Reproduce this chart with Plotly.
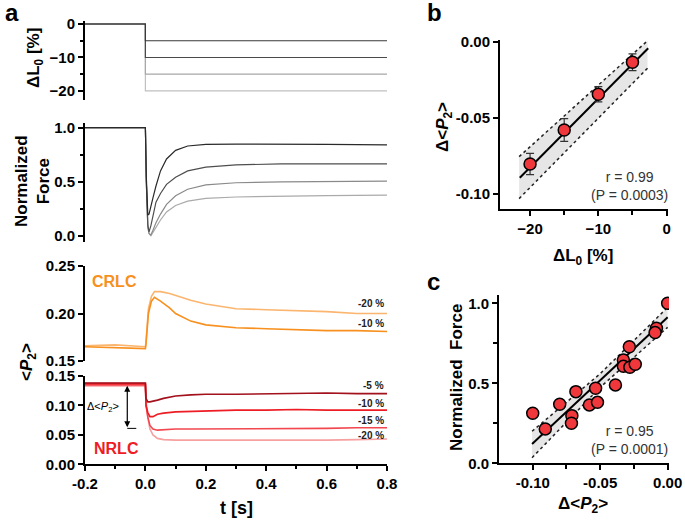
import plotly.graph_objects as go

# ---------------- data ----------------
steps = [-5, -10, -15, -20]
step_labels = ["-5 %", "-10 %", "-15 %", "-20 %"]
dl_t = [-0.2, 0.0, 0.0, 0.8]

force_t = [-0.2, 0.0, 0.003, 0.008, 0.012, 0.018, 0.025, 0.035, 0.05, 0.07, 0.1, 0.14, 0.2, 0.3, 0.45, 0.6, 0.8]
force_5 = [1.0, 1.0, 0.55, 0.19, 0.20, 0.26, 0.35, 0.46, 0.60, 0.71, 0.79, 0.83, 0.845, 0.848, 0.848, 0.845, 0.84]
force_10 = [1.0, 1.0, 0.50, 0.10, 0.035, 0.09, 0.18, 0.31, 0.39, 0.475, 0.54, 0.60, 0.635, 0.655, 0.665, 0.668, 0.665]
force_15 = [1.0, 1.0, 0.50, 0.08, 0.02, 0.005, 0.05, 0.12, 0.20, 0.29, 0.37, 0.43, 0.47, 0.49, 0.498, 0.502, 0.505]
force_20 = [1.0, 1.0, 0.50, 0.08, 0.02, 0.0, 0.03, 0.08, 0.145, 0.22, 0.28, 0.32, 0.345, 0.358, 0.366, 0.371, 0.376]

crlc_t = [-0.2, -0.1, 0.0, 0.002, 0.01, 0.02, 0.03, 0.05, 0.08, 0.1, 0.15, 0.2, 0.3, 0.4, 0.5, 0.6, 0.7, 0.8]
crlc_20 = [0.166, 0.167, 0.165, 0.170, 0.205, 0.218, 0.223, 0.223, 0.221, 0.219, 0.214, 0.210, 0.205, 0.204, 0.203, 0.202, 0.200, 0.200]
crlc_10 = [0.165, 0.164, 0.163, 0.168, 0.200, 0.213, 0.217, 0.213, 0.206, 0.200, 0.192, 0.188, 0.185, 0.184, 0.183, 0.182, 0.182, 0.181]
crlc_labels = ["-20 %", "-10 %"]

nrlc_t = [-0.2, -0.1, 0.0, 0.002, 0.008, 0.015, 0.025, 0.04, 0.06, 0.1, 0.15, 0.2, 0.3, 0.4, 0.5, 0.6, 0.7, 0.8]
nrlc_5 = [0.138, 0.138, 0.138, 0.112, 0.106, 0.106, 0.107, 0.109, 0.112, 0.116, 0.118, 0.119, 0.119, 0.120, 0.120, 0.121, 0.120, 0.120]
nrlc_10 = [0.137, 0.137, 0.137, 0.100, 0.088, 0.081, 0.081, 0.085, 0.087, 0.089, 0.090, 0.091, 0.092, 0.092, 0.093, 0.092, 0.092, 0.092]
nrlc_15 = [0.135, 0.135, 0.135, 0.100, 0.080, 0.066, 0.060, 0.058, 0.059, 0.060, 0.060, 0.060, 0.060, 0.061, 0.061, 0.061, 0.062, 0.062]
nrlc_20 = [0.133, 0.133, 0.133, 0.110, 0.080, 0.060, 0.050, 0.044, 0.042, 0.041, 0.041, 0.041, 0.041, 0.040, 0.041, 0.041, 0.042, 0.043]
delta_marker_t = -0.06
delta_marker_top = 0.136
delta_marker_bottom = 0.061

# panel b
b_dl = [-20, -15, -10, -5]
b_dp2 = [-0.0803, -0.058, -0.0346, -0.0136]
b_err = [0.007, 0.0075, 0.005, 0.0055]
b_fit_x = [-21.5, -2.7]
b_fit_y = [-0.0893, -0.0044]
b_band_x = [-21.6, -2.8]
b_band_hi = [-0.0755, 0.0005]
b_band_lo = [-0.103, -0.0175]

# panel c
c_dp2 = [-0.100, -0.0907, -0.080, -0.071, -0.0713, -0.068, -0.058, -0.0534, -0.052, -0.0387,
         -0.0328, -0.0328, -0.028, -0.0284, -0.024, -0.0083, -0.0093, 0.0]
c_force = [0.3125, 0.215, 0.369, 0.298, 0.25, 0.448, 0.365, 0.469, 0.381, 0.49,
           0.646, 0.606, 0.60, 0.729, 0.619, 0.844, 0.817, 1.0]
c_fit_x = [-0.1005, 0.0]
c_fit_y = [0.121, 0.9125]
c_band_x = [-0.1005, -0.05, 0.0]
c_band_hi = [0.20, 0.56, 0.975]
c_band_lo = [0.035, 0.475, 0.85]

# ---------------- layout helpers ----------------
W, H = 685, 520
FONT = "Liberation Sans, Arial, sans-serif"


def xd(a, b):
    return [a / W, b / W]


def yd(top, bottom):
    return [1 - bottom / H, 1 - top / H]


tickfont = dict(family=FONT, size=15, color="black", weight="bold")


def axis(**kw):
    base = dict(showline=True, linecolor="black", linewidth=2, ticks="outside",
                ticklen=5, tickwidth=2, tickcolor="black", tickfont=tickfont,
                showgrid=False, zeroline=False, mirror=False, automargin=False)
    base.update(kw)
    return base


hidden_x = dict(visible=False, range=[-0.2, 0.8], automargin=False)

fig = go.Figure()

# panel a: length step
dl_colors = ["#3a3a3a", "#4a4a4a", "#a8a8a8", "#c0c0c0"]
for s, col in reversed(list(zip(steps, dl_colors))):
    fig.add_trace(go.Scatter(x=dl_t, y=[0, 0, s, s], mode="lines",
                             line=dict(color=col, width=1.2), xaxis="x", yaxis="y", hoverinfo="skip"))

# panel a: force
f_colors = ["#2a2a2a", "#4e4e4e", "#8a8a8a", "#aaaaaa"]
for ys, col in reversed(list(zip([force_5, force_10, force_15, force_20], f_colors))):
    fig.add_trace(go.Scatter(x=force_t, y=ys, mode="lines", line=dict(color=col, width=1.2),
                             xaxis="x2", yaxis="y2", hoverinfo="skip"))

# panel a: CRLC
for ys, col in [(crlc_20, "#fbb56e"), (crlc_10, "#f7901e")]:
    fig.add_trace(go.Scatter(x=crlc_t, y=ys, mode="lines", line=dict(color=col, width=1.6),
                             xaxis="x3", yaxis="y3", hoverinfo="skip"))

# panel a: NRLC
n_colors = ["#a3121c", "#ee1c24", "#f2474f", "#f7a0a0"]
for ys, col in reversed(list(zip([nrlc_5, nrlc_10, nrlc_15, nrlc_20], n_colors))):
    fig.add_trace(go.Scatter(x=nrlc_t, y=ys, mode="lines", line=dict(color=col, width=1.6),
                             xaxis="x4", yaxis="y4", hoverinfo="skip"))

# panel b
fig.add_trace(go.Scatter(x=b_band_x + b_band_x[::-1], y=b_band_hi + b_band_lo[::-1], fill="toself",
                         fillcolor="rgba(200,200,200,0.45)", line=dict(width=0), mode="lines",
                         xaxis="x5", yaxis="y5", hoverinfo="skip"))
for yy in (b_band_hi, b_band_lo):
    fig.add_trace(go.Scatter(x=b_band_x, y=yy, mode="lines", line=dict(color="#222", width=1.5, dash="dot"),
                             xaxis="x5", yaxis="y5", hoverinfo="skip"))
fig.add_trace(go.Scatter(x=b_fit_x, y=b_fit_y, mode="lines", line=dict(color="black", width=2),
                         xaxis="x5", yaxis="y5", hoverinfo="skip"))
fig.add_trace(go.Scatter(x=b_dl, y=b_dp2, mode="markers",
                         error_y=dict(type="data", array=b_err, color="#333", thickness=1.2, width=4),
                         marker=dict(size=12, color="#f0373c", line=dict(color="black", width=1.5)),
                         xaxis="x5", yaxis="y5"))

# panel c
fig.add_trace(go.Scatter(x=c_band_x + c_band_x[::-1], y=c_band_hi + c_band_lo[::-1], fill="toself",
                         fillcolor="rgba(200,200,200,0.45)", line=dict(width=0), mode="lines",
                         xaxis="x6", yaxis="y6", hoverinfo="skip"))
for yy in (c_band_hi, c_band_lo):
    fig.add_trace(go.Scatter(x=c_band_x, y=yy, mode="lines", line=dict(color="#222", width=1.5, dash="dot"),
                             xaxis="x6", yaxis="y6", hoverinfo="skip"))
fig.add_trace(go.Scatter(x=c_fit_x, y=c_fit_y, mode="lines", line=dict(color="black", width=2),
                         xaxis="x6", yaxis="y6", hoverinfo="skip"))
fig.add_trace(go.Scatter(x=c_dp2, y=c_force, mode="markers",
                         marker=dict(size=12, color="#f0373c", line=dict(color="black", width=1.5)),
                         xaxis="x6", yaxis="y6"))

ax_x = xd(85, 387)
fig.update_layout(
    width=W, height=H, margin=dict(l=0, r=0, t=0, b=0, autoexpand=False),
    paper_bgcolor="white", plot_bgcolor="white", showlegend=False,
    font=dict(family=FONT, color="black"),
    xaxis=dict(domain=ax_x, anchor="y", **hidden_x),
    yaxis=axis(domain=yd(21, 100), range=[-22.7, 0.9], tickvals=[0, -10, -20], anchor="x",
               minor=dict(tickvals=[-5, -15], ticklen=3, tickwidth=1.5, tickcolor="black", ticks="outside")),
    xaxis2=dict(domain=ax_x, anchor="y2", **hidden_x),
    yaxis2=axis(domain=yd(122.7, 241.7), range=[-0.056, 1.046], tickvals=[0, 0.5, 1.0],
                ticktext=["0.0", "0.5", "1.0"], anchor="x2",
                minor=dict(tickvals=[0.25, 0.75], ticklen=3, tickwidth=1.5, tickcolor="black", ticks="outside")),
    xaxis3=dict(domain=ax_x, anchor="y3", **hidden_x),
    yaxis3=axis(domain=yd(266, 361), range=[0.15, 0.25], tickvals=[0.15, 0.20, 0.25],
                ticktext=["0.15", "0.20", "0.25"], anchor="x3"),
    xaxis4=axis(domain=ax_x, anchor="y4", range=[-0.2, 0.8], tickvals=[-0.2, 0, 0.2, 0.4, 0.6, 0.8],
                ticktext=["-0.2", "0.0", "0.2", "0.4", "0.6", "0.8"],
                minor=dict(tickvals=[-0.1, 0.1, 0.3, 0.5, 0.7], ticklen=3, tickwidth=1.5,
                           tickcolor="black", ticks="outside")),
    yaxis4=axis(domain=yd(376, 464.3), range=[0, 0.15], tickvals=[0, 0.05, 0.10, 0.15],
                ticktext=["0.00", "0.05", "0.10", "0.15"], anchor="x4"),
    xaxis5=axis(domain=xd(500, 668), anchor="y5", range=[-24.4, 0.2], tickvals=[-20, -10, 0],
                minor=dict(tickvals=[-15, -5], ticklen=4, tickwidth=1.5, tickcolor="black", ticks="outside")),
    yaxis5=axis(domain=yd(40, 209.3), anchor="x5", range=[-0.11, 0.001], tickvals=[0, -0.05, -0.10],
                ticktext=["0.00", "-0.05", "-0.10"]),
    xaxis6=axis(domain=xd(499, 669), anchor="y6", range=[-0.125, 0.001], tickvals=[-0.10, -0.05, 0.0],
                ticktext=["-0.10", "-0.05", "0.00"],
                minor=dict(tickvals=[-0.075, -0.025], ticklen=4, tickwidth=1.5, tickcolor="black", ticks="outside")),
    yaxis6=axis(domain=yd(295, 463.3), anchor="x6", range=[0, 1.052], tickvals=[0, 0.5, 1.0],
                ticktext=["0.0", "0.5", "1.0"],
                minor=dict(tickvals=[0.25, 0.75], ticklen=4, tickwidth=1.5, tickcolor="black", ticks="outside")),
)

ann = []


def paper_text(px, py, text, size=17, bold=True, angle=0, color="black", xanchor="center", align="center"):
    ann.append(dict(x=px / W, y=1 - py / H, xref="paper", yref="paper", text=text, showarrow=False,
                    textangle=angle, xanchor=xanchor, yanchor="middle", align=align,
                    font=dict(family=FONT, size=size, color=color, weight="bold" if bold else "normal")))


P2 = "&lt;<i>P</i><sub>2</sub>&gt;"
# panel letters
paper_text(12, 12, "a", size=24)
paper_text(434, 12, "b", size=24)
paper_text(433, 281, "c", size=24)
# axis titles
paper_text(35, 58, "ΔL<sub>0</sub> [%]", angle=-90)
paper_text(32, 181, "Normalized<br>Force", angle=-90)
paper_text(28, 362, P2, angle=-90)
paper_text(236, 508, "t [s]", size=18)
paper_text(444, 127, "Δ" + P2, angle=-90)
paper_text(583, 257, "ΔL<sub>0</sub> [%]")
paper_text(456, 378, "Normalized  Force", angle=-90)
paper_text(583, 505, "Δ" + P2)
# stats
paper_text(629, 186, "r = 0.99<br>(P = 0.0003)", size=14, bold=False, color="#333")
paper_text(629, 440, "r = 0.95<br>(P = 0.0001)", size=14, bold=False, color="#333")
# CRLC / NRLC labels
paper_text(115, 281, "CRLC", size=16, color="#f7901e")
paper_text(116, 448, "NRLC", size=16, color="#ee1c24")

# step labels near trace ends (label placement, in pixels)
lab_font = dict(family=FONT, size=10, color="#222", weight="bold")
for lab, py in zip(crlc_labels, [303, 323]):
    paper_text(386, py, lab, size=10, color="#222", xanchor="right")
for lab, py in zip(step_labels, [385, 403, 420, 435]):
    paper_text(386, py, lab, size=10, color="#222", xanchor="right")

# Δ<P2> arrow
ann.append(dict(x=delta_marker_t, y=delta_marker_bottom + 0.002, ax=delta_marker_t, ay=delta_marker_top,
                xref="x4", yref="y4", axref="x4", ayref="y4", text="", showarrow=True,
                arrowhead=2, startarrowhead=2, arrowside="end+start", arrowsize=1, arrowwidth=1.2,
                arrowcolor="black"))
ann.append(dict(x=-0.139, y=0.097, xref="x4", yref="y4", text="Δ" + P2, showarrow=False,
                font=dict(family=FONT, size=11, color="black")))
fig.update_layout(annotations=ann)

fig.add_shape(type="line", x0=delta_marker_t, x1=0.0, y0=delta_marker_bottom, y1=delta_marker_bottom,
              xref="x4", yref="y4", line=dict(color="black", width=1, dash="dash"))

fig.write_html("out.html", config={"displayModeBar": False},
               post_script="document.body.style.margin='0px';document.body.style.overflow='hidden';")
